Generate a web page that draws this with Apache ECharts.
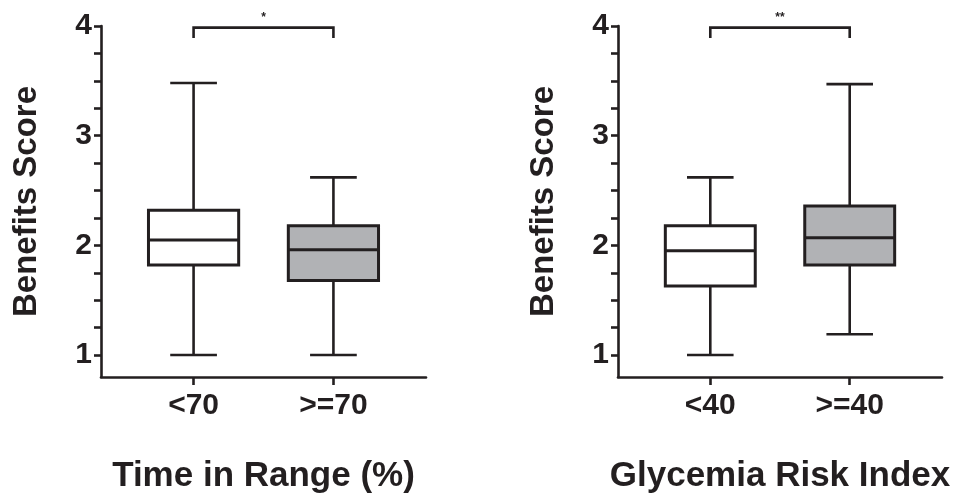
<!DOCTYPE html>
<html>
<head>
<meta charset="utf-8">
<title>Benefits Score</title>
<script src="https://cdn.jsdelivr.net/npm/echarts@6/dist/echarts.min.js"></script>
<style>
    html,body{margin:0;padding:0;background:#fff;}
    #container{width:954px;height:497px;}
</style>
</head>
<body>
<div id="container"></div>
<script>
// 两组箱线图的数据 (min, Q1, median, Q3, max)
var tir_groups=['<70','>=70'];
var tir_min=[1.00,1.00];
var tir_q1=[1.82,1.68];
var tir_med=[2.05,1.96];
var tir_q3=[2.32,2.18];
var tir_max=[3.48,2.62];
var tir_sig='*';

var gri_groups=['<40','>=40'];
var gri_min=[1.00,1.19];
var gri_q1=[1.63,1.82];
var gri_med=[1.95,2.07];
var gri_q3=[2.18,2.36];
var gri_max=[2.62,3.47];
var gri_sig='**';

var y_labels=[1,2,3,4];
var y_ticks=[1,1.25,1.5,1.75,2,2.25,2.5,2.75,3,3.25,3.5,3.75,4];
var sig_top=3.985, sig_leg=3.89, sig_text=4.075;

var ink='#231f20', box_fill=['#ffffff','#b1b2b5'];
var font='"Liberation Sans", Arial, Helvetica, sans-serif';

var dom=document.getElementById('container');
var myChart=echarts.init(dom);

function rows(mn,q1,md,q3,mx) {
    var out=[];
    for(var i=0;i<mn.length;i++){
        out.push([i,mn[i],q1[i],md[i],q3[i],mx[i]]);
    }
    return out;
}//拼成 custom series 的数据行

function line(a,b,w) {
    return {type:'line',shape:{x1:a[0],y1:a[1],x2:b[0],y2:b[1]},style:{stroke:ink,lineWidth:w}};
}

function renderBox(params,api) {
    var x=api.value(0);
    var pMin=api.coord([x,api.value(1)]);
    var pQ1=api.coord([x,api.value(2)]);
    var pMed=api.coord([x,api.value(3)]);
    var pQ3=api.coord([x,api.value(4)]);
    var pMax=api.coord([x,api.value(5)]);
    var hb=api.size([0.645,0])[0]/2;
    var hc=api.size([0.334,0])[0]/2;
    var cx=pMed[0];
    return {
        type:'group',
        children:[
            line([cx,pMax[1]],[cx,pQ3[1]],2.6),
            line([cx,pQ1[1]],[cx,pMin[1]],2.6),
            line([cx-hc,pMax[1]],[cx+hc,pMax[1]],2.6),
            line([cx-hc,pMin[1]],[cx+hc,pMin[1]],2.6),
            {type:'rect',shape:{x:cx-hb,y:pQ3[1],width:hb*2,height:pQ1[1]-pQ3[1]},
                style:{fill:box_fill[params.dataIndex],stroke:ink,lineWidth:3}},
            line([cx-hb,pMed[1]],[cx+hb,pMed[1]],3)
        ]
    };
}

function renderSig(params,api) {
    var a=api.coord([api.value(0),api.value(2)]);
    var b=api.coord([api.value(1),api.value(2)]);
    var la=api.coord([api.value(0),api.value(3)]);
    var t=api.coord([(api.value(0)+api.value(1))/2,sig_text]);
    return {
        type:'group',
        children:[
            {type:'polyline',shape:{points:[[la[0],la[1]],a,b,[b[0],la[1]]]},
                style:{stroke:ink,lineWidth:2.6,fill:null}},
            {type:'text',x:t[0],y:t[1],style:{text:params.seriesIndex===1?tir_sig:gri_sig,
                fill:ink,font:'bold 12px '+font,align:'center',verticalAlign:'middle'}}
        ]
    };
}

function xAxisOpt(idx,groups,name) {
    return {
        type:'value',gridIndex:idx,min:-0.662,max:1.662,
        name:name,nameLocation:'middle',nameGap:82,
        nameTextStyle:{fontFamily:font,fontWeight:'bold',fontSize:35,color:ink},
        axisLine:{show:true,onZero:false,lineStyle:{color:ink,width:2.6}},
        axisTick:{show:true,inside:false,length:8,customValues:[0,1],lineStyle:{color:ink,width:2.6}},
        axisLabel:{customValues:[0,1],margin:14,fontFamily:font,fontWeight:'bold',fontSize:30,color:ink,
            formatter:function (v) { return groups[Math.round(v)]; }},
        splitLine:{show:false}
    };
}

function yAxisOpt(idx) {
    return {
        type:'value',gridIndex:idx,min:0.8,max:4,
        name:'Benefits Score',nameLocation:'middle',nameGap:58,
        nameTextStyle:{fontFamily:font,fontWeight:'bold',fontSize:33,color:ink},
        axisLine:{show:true,onZero:false,lineStyle:{color:ink,width:2.6}},
        axisTick:{show:true,length:7,customValues:y_ticks,lineStyle:{color:ink,width:2.6}},
        axisLabel:{customValues:y_labels,margin:9,fontFamily:font,fontWeight:'bold',fontSize:30,color:ink},
        splitLine:{show:false}
    };
}

var option={
    animation:false,
    grid:[
        {left:101,right:528,top:26,bottom:120,outerBoundsMode:'none',containLabel:false},
        {left:618,right:12,top:26,bottom:120,outerBoundsMode:'none',containLabel:false}
    ],
    xAxis:[xAxisOpt(0,tir_groups,'Time in Range (%)'),xAxisOpt(1,gri_groups,'Glycemia Risk Index')],
    yAxis:[yAxisOpt(0),yAxisOpt(1)],
    series:[
        {type:'custom',xAxisIndex:0,yAxisIndex:0,clip:false,renderItem:renderBox,
            encode:{x:0,y:[1,2,3,4,5]},data:rows(tir_min,tir_q1,tir_med,tir_q3,tir_max)},
        {type:'custom',xAxisIndex:0,yAxisIndex:0,clip:false,renderItem:renderSig,
            encode:{x:[0,1],y:[2,3]},data:[[0,1,sig_top,sig_leg]]},
        {type:'custom',xAxisIndex:1,yAxisIndex:1,clip:false,renderItem:renderBox,
            encode:{x:0,y:[1,2,3,4,5]},data:rows(gri_min,gri_q1,gri_med,gri_q3,gri_max)},
        {type:'custom',xAxisIndex:1,yAxisIndex:1,clip:false,renderItem:renderSig,
            encode:{x:[0,1],y:[2,3]},data:[[0,1,sig_top,sig_leg]]}
    ]
};

myChart.setOption(option);
</script>
</body>
</html>
